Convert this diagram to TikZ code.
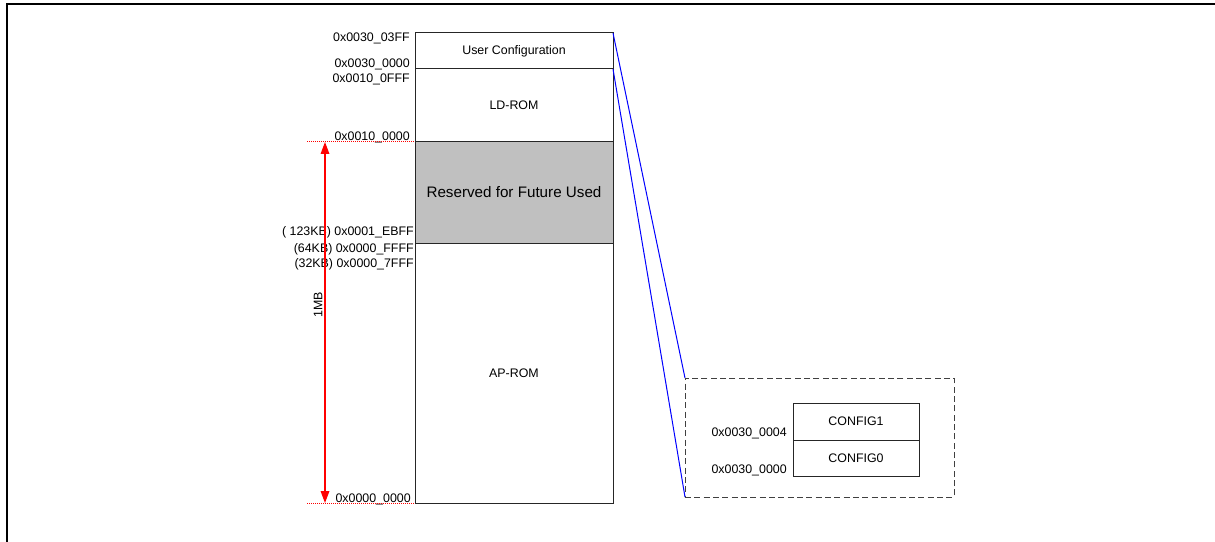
\documentclass[tikz,border=0pt]{standalone}
\usepackage{fontspec}
\setmainfont{Liberation Sans}
\usetikzlibrary{positioning,arrows.meta}
\definecolor{rsvdgray}{HTML}{C0C0C0}
\tikzset{
  memblk/.style={draw=black!85, line width=0.75pt, fill=white, inner sep=0pt, outer sep=0pt,
    minimum width=148.5pt, font=\fontsize{9.3}{11}\selectfont},
  addrlbl/.style={anchor=east, inner sep=0pt, font=\fontsize{9.3}{11}\selectfont},
  reddots/.style={red, line width=0.75pt, dash pattern=on 0.75pt off 0.75pt},
}
\begin{document}
\begin{tikzpicture}[x=0.75pt, y=-0.75pt]
    \useasboundingbox (0,0) rectangle (1215,542);
    \draw[line width=1.5pt] (7,542) -- (7,4) -- (1215,4);

    \node[memblk, minimum height=27pt] (ucfg) at (514,51) {User Configuration};
    \node[memblk, minimum height=54.75pt, below=0pt of ucfg] (ldrom) {LD-ROM};
    \node[memblk, minimum height=75.75pt, fill=rsvdgray, below=0pt of ldrom, font=\fontsize{11.4}{13}\selectfont] (rsvd) {Reserved for Future Used};
    \node[memblk, minimum height=195pt, below=0pt of rsvd] (aprom) {AP-ROM};

    \node[addrlbl] (a1) at (410,38) {0x0030\_03FF};
    \node[addrlbl] (a2) at (410,64) {0x0030\_0000};
    \node[addrlbl] (a3) at (410,79) {0x0010\_0FFF};
    \node[addrlbl] (a4) at (410,137) {0x0010\_0000};
    \node[addrlbl] (a5) at (414,232) {( 123KB) 0x0001\_EBFF};
    \node[addrlbl] (a6) at (414,249) {(64KB) 0x0000\_FFFF};
    \node[addrlbl] (a7) at (414,264) {(32KB) 0x0000\_7FFF};
    \node[addrlbl] (a8) at (411,499) {0x0000\_0000};

    \coordinate (mtop) at (307,142);
    \coordinate (mbot) at (307,503);
    \coordinate (atop) at (325,142);
    \coordinate (abot) at (325,503);
    \draw[reddots] (mtop) -- (rsvd.north west);
    \draw[reddots] (mbot) -- (aprom.south west);
    \draw[red, line width=0.9pt, {Triangle[width=6.5pt,length=9pt]}-{Triangle[width=6.5pt,length=9pt]}] (atop) -- (abot);
    \node[rotate=90, inner sep=0pt, font=\fontsize{9.3}{11}\selectfont] (size) at (318,305) {1MB};

    \node[draw=black!75, dash pattern=on 4.5pt off 2.5pt, line width=0.75pt, minimum width=201.75pt,
      minimum height=89.25pt, inner sep=0pt, outer sep=0pt] (cfgbox) at (819.5,437.5) {};
    \node[memblk, minimum width=94.5pt, minimum height=27.75pt] (cfg1) at (856,421.5) {CONFIG1};
    \node[memblk, minimum width=94.5pt, minimum height=27pt, below=0pt of cfg1] (cfg0) {CONFIG0};
    \node[addrlbl] (c1) at (787,433) {0x0030\_0004};
    \node[addrlbl] (c0) at (787,470) {0x0030\_0000};

    \draw[blue, line width=0.75pt] (ucfg.north east) -- (cfgbox.north west);
    \draw[blue, line width=0.75pt] (ucfg.south east) -- (cfgbox.south west);
\end{tikzpicture}
\end{document}
